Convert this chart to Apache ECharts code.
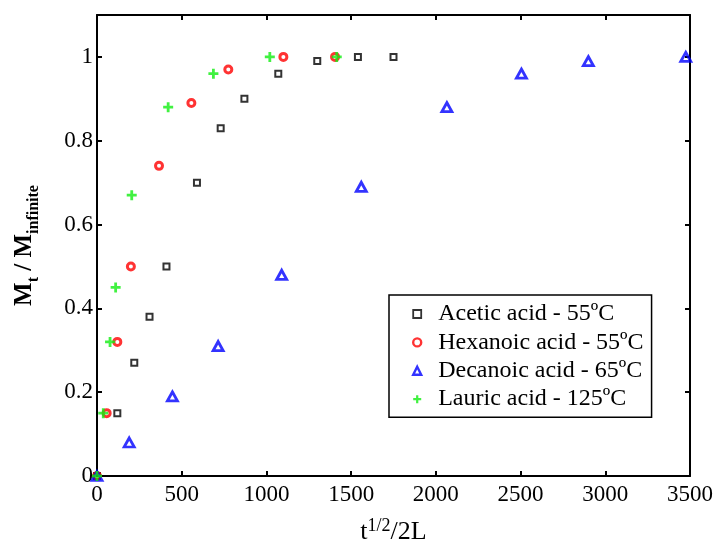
<!DOCTYPE html>
<html>
<head>
<meta charset="utf-8">
<style>
  html, body { margin: 0; padding: 0; background: #fff; }
  #chart { width: 717px; height: 550px; }
</style>
<script src="https://cdn.jsdelivr.net/npm/echarts@6/dist/echarts.min.js"></script>
</head>
<body>
<div id="chart"></div>
<script>
// Sorption uptake curves: fractional uptake vs. t^(1/2)/2L
const seriesNames = [
  'Acetic acid - 55ºC',
  'Hexanoic acid - 55ºC',
  'Decanoic acid - 65ºC',
  'Lauric acid - 125ºC'
];

const aceticX = [0, 120, 220, 310, 410, 590, 730, 870, 1070, 1300, 1540, 1750];
const aceticY = [0, 0.15, 0.27, 0.38, 0.50, 0.70, 0.83, 0.90, 0.96, 0.99, 1.0, 1.0];

const hexanoicX = [0, 57, 120, 200, 366, 557, 775, 1100, 1405];
const hexanoicY = [0, 0.15, 0.32, 0.50, 0.74, 0.89, 0.97, 1.0, 1.0];

const decanoicX = [0, 190, 445, 715, 1090, 1560, 2065, 2505, 2900, 3475];
const decanoicY = [0, 0.08, 0.19, 0.31, 0.48, 0.69, 0.88, 0.96, 0.99, 1.0];

const lauricX = [0, 37, 77, 110, 205, 420, 687, 1020, 1415];
const lauricY = [0, 0.15, 0.32, 0.45, 0.67, 0.88, 0.96, 1.0, 1.0];

const xTicks = { min: 0, max: 3500, interval: 500 };
const yTicks = { min: 0, max: 1.1, interval: 0.2 };

const pair = (xs, ys) => xs.map((x, i) => [x, ys[i]]);

const SERIF = "'Liberation Serif', 'Times New Roman', serif";
const PLUS = 'path://M3.6,0H6.4V3.6H10V6.4H6.4V10H3.6V6.4H0V3.6H3.6Z';

const styles = [
  { symbol: 'rect', size: 6, item: { color: 'rgba(255,255,255,0)', borderColor: '#000', borderWidth: 2 } },
  { symbol: 'circle', size: 7, item: { color: 'rgba(255,255,255,0)', borderColor: '#ff0000', borderWidth: 3 } },
  { symbol: 'triangle', size: [10, 9], item: { color: 'rgba(255,255,255,0)', borderColor: '#0000ff', borderWidth: 2.8 } },
  { symbol: PLUS, size: 10, item: { color: '#11ee11', borderWidth: 0 } }
];
const legendIconStyle = [
  { color: 'rgba(255,255,255,0)', borderColor: '#000', borderWidth: 1.8 },
  { color: 'rgba(255,255,255,0)', borderColor: '#ff0000', borderWidth: 2.4 },
  { color: 'rgba(255,255,255,0)', borderColor: '#0000ff', borderWidth: 2.4 },
  { color: '#11ee11', borderWidth: 0 }
];

const frameLine = { show: true, onZero: false, lineStyle: { color: '#000', width: 2 } };
const innerTick = { show: true, inside: true, length: 5, lineStyle: { color: '#000', width: 2 } };
const tickLabel = { color: '#000', fontFamily: SERIF, fontSize: 23 };

const chart = echarts.init(document.getElementById('chart'), null, { renderer: 'canvas' });

chart.setOption({
  animation: false,
  backgroundColor: '#fff',
  grid: { left: 97, right: 27, top: 15, bottom: 71, containLabel: false },
  xAxis: [
    {
      type: 'value', position: 'bottom',
      min: xTicks.min, max: xTicks.max, interval: xTicks.interval,
      axisLine: frameLine, axisTick: innerTick,
      axisLabel: Object.assign({ margin: 7, formatter: v => String(v) }, tickLabel),
      splitLine: { show: false },
      name: '{b|t}{s|1/2}{b|/2L}',
      nameLocation: 'middle', nameGap: 41,
      nameTextStyle: {
        fontFamily: SERIF, color: '#000',
        rich: {
          b: { fontFamily: SERIF, fontSize: 26, color: '#000', lineHeight: 28, verticalAlign: 'bottom' },
          s: { fontFamily: SERIF, fontSize: 18, color: '#000', lineHeight: 28, verticalAlign: 'top' }
        }
      }
    },
    {
      type: 'value', position: 'top',
      min: xTicks.min, max: xTicks.max, interval: xTicks.interval,
      axisLine: frameLine, axisTick: innerTick,
      axisLabel: { show: false }, splitLine: { show: false }
    }
  ],
  yAxis: [
    {
      type: 'value', position: 'left',
      min: yTicks.min, max: yTicks.max, interval: yTicks.interval,
      axisLine: frameLine, axisTick: innerTick,
      axisLabel: Object.assign({ margin: 4, showMaxLabel: false }, tickLabel),
      splitLine: { show: false },
      name: '{m|M}{sub|t}{m| / M}{sub|infinite}',
      nameLocation: 'middle', nameRotate: 90, nameGap: 55,
      nameTextStyle: {
        fontFamily: SERIF, color: '#000',
        rich: {
          m: { fontFamily: SERIF, fontWeight: 'bold', fontSize: 25, color: '#000', lineHeight: 30, verticalAlign: 'top' },
          sub: { fontFamily: SERIF, fontWeight: 'bold', fontSize: 16, color: '#000', lineHeight: 30, verticalAlign: 'bottom' }
        }
      }
    },
    {
      type: 'value', position: 'right',
      min: yTicks.min, max: yTicks.max, interval: yTicks.interval,
      axisLine: frameLine, axisTick: innerTick,
      axisLabel: { show: false }, splitLine: { show: false }
    }
  ],
  legend: {
    orient: 'vertical',
    left: 389, top: 295,
    padding: [7, 8, 6, 23],
    itemWidth: 8, itemHeight: 8, itemGap: 4.4,
    backgroundColor: '#fff',
    borderColor: '#000', borderWidth: 1.5, borderRadius: 0,
    textStyle: { fontFamily: SERIF, fontSize: 24, color: '#000', lineHeight: 22, padding: [0, 0, 0, 12] },
    data: seriesNames.map((n, i) => ({ name: n, itemStyle: legendIconStyle[i] }))
  },
  series: seriesNames.map((n, i) => ({
    name: n,
    type: 'scatter',
    data: [pair(aceticX, aceticY), pair(hexanoicX, hexanoicY), pair(decanoicX, decanoicY), pair(lauricX, lauricY)][i],
    symbol: styles[i].symbol,
    symbolSize: styles[i].size,
    itemStyle: styles[i].item
  }))
});
</script>
</body>
</html>
